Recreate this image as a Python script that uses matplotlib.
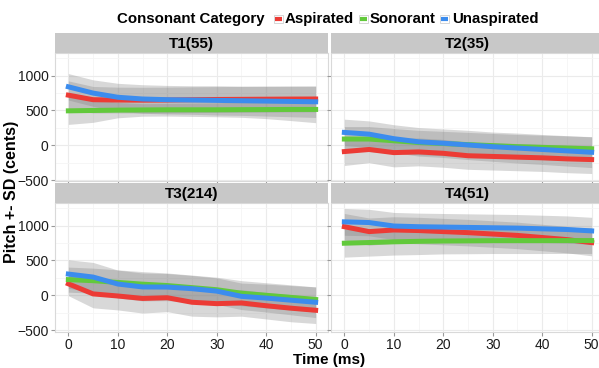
import numpy as np
import matplotlib.pyplot as plt
from matplotlib.patches import Rectangle
from matplotlib.lines import Line2D

plt.rcParams['font.family'] = ['Liberation Sans', 'DejaVu Sans']

time_ms = [0, 5, 10, 15, 20, 25, 30, 35, 40, 45, 50]
categories = ['Aspirated', 'Sonorant', 'Unaspirated']
colors = ['#EC3B35', '#62C93B', '#3B8CEE']
panels = ['T1(55)', 'T2(35)', 'T3(214)', 'T4(51)']

# mean pitch (cents) per tone panel and consonant category
t1_asp = [720, 655, 650, 648, 650, 655, 658, 660, 662, 664, 665]
t1_son = [495, 500, 505, 508, 510, 510, 510, 512, 513, 515, 515]
t1_una = [840, 750, 690, 665, 655, 650, 645, 640, 635, 630, 625]
t2_asp = [-90, -60, -105, -95, -115, -150, -160, -170, -180, -195, -205]
t2_son = [90, 90, 65, 40, 25, 10, -5, -20, -30, -40, -50]
t2_una = [185, 160, 95, 50, 30, 5, -20, -40, -60, -80, -100]
t3_asp = [165, 20, -10, -45, -35, -100, -120, -110, -150, -185, -215]
t3_son = [225, 210, 185, 160, 140, 110, 80, 30, 0, -30, -60]
t3_una = [305, 262, 162, 120, 118, 95, 60, -15, -40, -70, -100]
t4_asp = [985, 915, 938, 930, 915, 900, 880, 860, 830, 800, 757]
t4_son = [748, 758, 768, 775, 780, 782, 785, 785, 785, 786, 786]
t4_una = [1055, 1045, 995, 985, 980, 975, 970, 965, 955, 945, 925]

# standard deviations
t1_asp_sd = [205, 190, 185, 185, 185, 185, 185, 185, 185, 185, 185]
t1_son_sd = [195, 170, 110, 90, 90, 95, 100, 110, 130, 160, 190]
t1_una_sd = [190, 190, 200, 205, 205, 205, 210, 210, 215, 220, 225]
t2_asp_sd = [200, 190, 205, 200, 200, 195, 195, 195, 195, 198, 200]
t2_son_sd = [180, 180, 175, 175, 175, 175, 175, 175, 175, 175, 175]
t2_una_sd = [190, 190, 200, 205, 205, 210, 210, 215, 215, 218, 220]
t3_asp_sd = [170, 200, 200, 210, 200, 200, 190, 190, 190, 195, 190]
t3_son_sd = [180, 180, 180, 180, 180, 180, 180, 180, 180, 180, 180]
t3_una_sd = [205, 210, 200, 200, 195, 190, 190, 190, 200, 210, 220]
t4_asp_sd = [190, 195, 190, 190, 190, 190, 190, 190, 190, 190, 190]
t4_son_sd = [200, 195, 190, 190, 185, 185, 185, 185, 185, 185, 185]
t4_una_sd = [193, 190, 195, 195, 195, 195, 195, 195, 195, 195, 195]

means = [[t1_asp, t1_son, t1_una], [t2_asp, t2_son, t2_una],
         [t3_asp, t3_son, t3_una], [t4_asp, t4_son, t4_una]]
sds = [[t1_asp_sd, t1_son_sd, t1_una_sd], [t2_asp_sd, t2_son_sd, t2_una_sd],
       [t3_asp_sd, t3_son_sd, t3_una_sd], [t4_asp_sd, t4_son_sd, t4_una_sd]]

W, H = 599, 368
fig = plt.figure(figsize=(W / 100, H / 100), dpi=100)


def box(x0, y0, x1, y1):
    # pixel box (from top-left) -> figure fraction rect
    return [x0 / W, 1 - y1 / H, (x1 - x0) / W, (y1 - y0) / H]


cols = [(55, 328), (331, 604)]
rows = [(33, 52.7, 181.5), (183, 202.7, 331.5)]

for i in range(4):
    r, c = divmod(i, 2)
    x0, x1 = cols[c]
    st, y0, y1 = rows[r]
    ax = fig.add_axes(box(x0, y0, x1, y1))
    ax.set_facecolor('white')
    x = np.array(time_ms)
    for k in range(3):
        m = np.array(means[i][k])
        s = np.array(sds[i][k])
        ax.fill_between(x, m - s, m + s, color='#7F7F7F', alpha=0.3, lw=0)
    for k in range(3):
        ax.plot(x, means[i][k], color=colors[k], lw=3.6, solid_joinstyle='miter', zorder=3)
    ax.set_xlim(-2.7, 52.5)
    ax.set_ylim(-520, 1330)
    ax.set_xticks([0, 10, 20, 30, 40, 50])
    ax.set_xticks([5, 15, 25, 35, 45], minor=True)
    ax.set_yticks([-500, 0, 500, 1000])
    ax.set_yticks([-250, 250, 750, 1250], minor=True)
    ax.grid(True, which='major', color='#EBEBEB', lw=0.8, zorder=0)
    ax.grid(True, which='minor', color='#F5F5F5', lw=0.6, zorder=0)
    ax.set_axisbelow(True)
    for sp in ax.spines.values():
        sp.set_color('#D9D9D9')
        sp.set_linewidth(0.8)
    ax.tick_params(which='major', length=3, color='#999999', labelsize=10, labelcolor='#1A1A1A', pad=1.5)
    ax.tick_params(which='minor', length=0)
    if c == 1:
        ax.tick_params(labelleft=False)
    if r == 0:
        ax.tick_params(labelbottom=False)
    # facet strip
    sax = fig.add_axes(box(x0, st, x1, y0))
    sax.set_facecolor('#C8C8C8')
    sax.set_xticks([])
    sax.set_yticks([])
    for sp in sax.spines.values():
        sp.set_visible(False)
    sax.text(0.5, 0.45, panels[i], ha='center', va='center', fontsize=11,
             fontweight='bold', transform=sax.transAxes)

fig.text(12 / W, 1 - 192 / H, 'Pitch +- SD (cents)', rotation=90, ha='center', va='center',
         fontsize=11.5, fontweight='bold')
fig.text(329 / W, 1 - 360 / H, 'Time (ms)', ha='center', va='center',
         fontsize=11, fontweight='bold')

# legend along the top
ly = 1 - 19 / H
fig.text(117 / W, ly, 'Consonant Category', ha='left', va='center', fontsize=10.8, fontweight='bold')
key_x = [274, 359, 440]
lab_x = [285, 370, 452]
for k in range(3):
    kx = key_x[k]
    fig.patches.append(Rectangle((kx / W, 1 - 23 / H), 9 / W, 8 / H, transform=fig.transFigure,
                                 facecolor='white', edgecolor='#D0D0D0', lw=0.6))
    fig.lines.append(Line2D([(kx + 0.8) / W, (kx + 8.2) / W], [ly, ly], transform=fig.transFigure,
                            color=colors[k], lw=3.0, solid_capstyle='butt'))
    fig.text(lab_x[k] / W, ly, categories[k], ha='left', va='center', fontsize=10.8, fontweight='bold')

fig.savefig('out.png', dpi=100)
